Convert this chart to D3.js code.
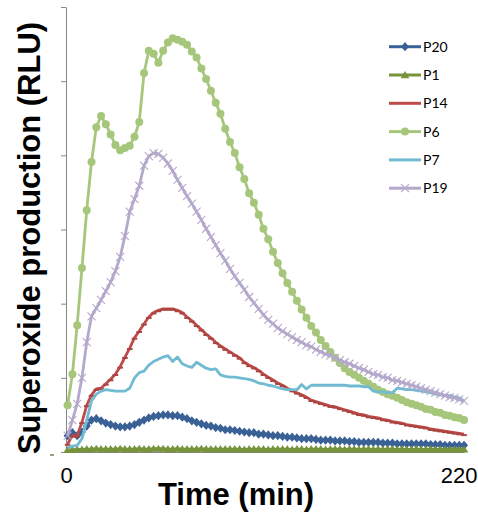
<!DOCTYPE html>
<html lang="en">
<head>
<meta charset="UTF-8">
<title>Superoxide production over time</title>
<script src="https://d3js.org/d3.v7.min.js"></script>
<style>
  body { margin: 0; background: #fff; }
  .axis-title { font: bold 31px "Liberation Sans", Arial, sans-serif; fill: #000; }
  .x-axis text { font: 22px "Liberation Sans", Arial, sans-serif; fill: #000; }
  .legend text { font: 14px Lato, "Liberation Sans", sans-serif; fill: #000; }
</style>
</head>
<body>
<script>
// Series names, in legend / drawing order
const names = ["P20", "P1", "P14", "P6", "P7", "P19"];

// sampling grid (minutes), one reading every ~2.64 min
const times = d3.range(84).map(i => +(0.9 + i * 2.64).toFixed(2));

// (RLU, arbitrary units 0-600)
const p20 = [22,26,22,27,35,43,45,42,39,37, 35,34,34,35,37,40,43,46,48,49,
  50,50,49,49,47,45,42,40,38,36, 35,33,32,30,30,29,28,27,26,26,
  24,24,23,22,22,21,20,20,19,18, 18,18,17,16,16,16,15,15,15,14,
  14,13,13,13,13,13,12,12,12,11, 11,11,11,11,11,11,10,10,10,9,
  9,9,9,9];
const p1 = [3,3,3.5,3.5,4,4,4.5,4,4,4, 4,4.5,4,4,4,4.5,4,4,4.5,4.5,
  4.5,4,4,4.5,4,4,4,4,4.5,4, 4,4,4,4,4,4,4,3.5,4,4,
  4,4,3.5,4,4,4,4,3.5,4,4, 3.5,4,4,4,3.5,4,4,4,3.5,4,
  4,3.5,4,4,3.5,4,3.5,4,4,3.5, 4,3.5,3.5,4,3.5,3.5,4,3.5,3.5,3.5,
  3.5,3.5,3.5,3.5];
const p14 = [11,22,22,40,63,77,85,86,92,98, 105,115,128,140,154,163,173,182,188,191,
  193,193,193,191,188,182,177,171,165,159, 154,148,143,139,135,131,127,121,117,114,
  110,105,101,97,93,90,86,83,80,77, 74,70,68,66,64,62,61,59,57,55,
  53,51,50,48,47,46,44,43,41,40, 39,37,36,35,34,33,31,30,29,28,
  27,26,25,24];
const p6 = [63,105,171,248,326,391,438,453,442,428, 414,407,410,413,425,445,511,541,537,525,
  541,552,558,556,553,549,540,532,517,503, 487,471,456,436,418,403,384,368,349,336,
  320,301,287,270,255,241,228,216,204,192, 181,170,161,151,143,135,127,120,113,108,
  104,100,96,92,88,84,81,78,76,73, 70,67,65,63,61,58,57,54,53,50,
  49,47,46,43];
const p7 = [5,8,9,18,43,69,78,82,84,83, 82,82,82,86,100,107,109,117,122,125,
  128,130,122,128,119,116,114,121,117,113, 111,112,104,102,101,101,100,99,98,96,
  93,92,90,89,87,85,84,84,84,91, 85,90,90,90,90,90,90,90,90,89,
  89,89,88,88,82,81,81,80,80,86, 85,84,84,83,82,81,80,78,77,76,
  76,74,73,69];
const p19 = [22,43,65,100,148,183,194,205,217,229, 244,263,291,324,341,359,386,399,403,402,
  397,389,379,367,356,345,335,324,313,301, 290,279,268,258,247,237,228,219,209,201,
  193,185,178,173,167,163,159,155,151,148, 144,142,138,135,132,130,127,124,121,119,
  116,113,111,108,105,104,101,100,97,96, 94,92,90,88,86,84,82,80,78,76,
  74,73,71,69];

const xTicks = [0, 220];
const yTicks = [0, 100, 200, 300, 400, 500, 600];

const colors = ["#3A6195", "#77933C", "#BE4B48", "#A6C77B", "#70BAD2", "#B4A8CB"];
const markers = ["diamond", "triangle", "dash", "circle", "none", "cross"];

const W = 478, H = 516;
const svg = d3.select("body").append("svg")
    .attr("width", W)
    .attr("height", H);

const x = d3.scaleLinear().domain([0, 220]).range([66, 464]);
const y = d3.scaleLinear().domain([0, 600]).range([452, 7]);

// axes
const xAxis = svg.append("g")
    .attr("class", "x-axis")
    .attr("transform", `translate(0,${y(0)})`)
    .call(d3.axisBottom(x).tickValues(xTicks).tickSize(0).tickPadding(15));
xAxis.select(".domain").attr("stroke", "#868686");
xAxis.selectAll(".tick text").filter(d => d === 220)
    .attr("text-anchor", "end").attr("x", 13);

const yAxis = svg.append("g")
    .attr("transform", `translate(${x(0)},0)`)
    .call(d3.axisLeft(y).tickValues(yTicks).tickSize(5).tickSizeOuter(0).tickFormat(""));
yAxis.selectAll("path, line").attr("stroke", "#868686");

svg.append("line")
    .attr("x1", 50).attr("x2", 54).attr("y1", 455).attr("y2", 455)
    .attr("stroke", "#8a7358").attr("stroke-width", 1.5);

// titles
svg.append("text")
    .attr("class", "axis-title")
    .attr("x", 236).attr("y", 505)
    .attr("text-anchor", "middle")
    .text("Time (min)");

svg.append("text")
    .attr("class", "axis-title")
    .attr("transform", "translate(40,238) rotate(-90)")
    .attr("text-anchor", "middle")
    .text("Superoxide production (RLU)");

const markerPath = {
    diamond: "M0,-4.6L4,0L0,4.6L-4,0Z",
    triangle: "M0,-4L4.3,3.2L-4.3,3.2Z",
    dash: "M-2.8,0.9H2.8",
    cross: "M-4,-4L4,4M-4,4L4,-4"
};

function drawMarker(g, kind, color) {
    if (kind === "none") return;
    if (kind === "circle") {
        g.append("circle").attr("r", 4).attr("fill", color);
    } else if (kind === "dash") {
        g.append("path").attr("d", markerPath.dash)
            .attr("stroke", d3.color(color).darker(0.3)).attr("stroke-width", 2);
    } else if (kind === "cross") {
        g.append("path").attr("d", markerPath.cross)
            .attr("stroke", color).attr("stroke-width", 1.1).attr("fill", "none");
    } else {
        g.append("path").attr("d", markerPath[kind]).attr("fill", color);
    }
}

const series = names.map((name, k) => ({
    name,
    color: colors[k],
    marker: markers[k],
    values: [p20, p1, p14, p6, p7, p19][k].map((v, i) => ({ t: times[i], v }))
}));

const line = d3.line().x(d => x(d.t)).y(d => y(d.v));

series.forEach(s => {
    const g = svg.append("g");
    g.append("path")
        .datum(s.values)
        .attr("d", line)
        .attr("fill", "none")
        .attr("stroke", s.color)
        .attr("stroke-width", 2.8)
        .attr("stroke-linejoin", "round");
    g.selectAll("g.m")
        .data(s.values)
        .join("g")
        .attr("class", "m")
        .attr("transform", d => `translate(${x(d.t)},${y(d.v)})`)
        .each(function() { drawMarker(d3.select(this), s.marker, s.color); });
});

// legend
const legend = svg.append("g").attr("class", "legend");
series.forEach((s, k) => {
    const row = legend.append("g").attr("transform", `translate(389,${46.7 + k * 28.3})`);
    row.append("line")
        .attr("x1", 0).attr("x2", 32)
        .attr("stroke", s.color).attr("stroke-width", 3);
    const m = row.append("g").attr("transform", "translate(16,0)");
    drawMarker(m, s.marker === "dash" ? "none" : s.marker, s.color);
    row.append("text")
        .attr("x", 34).attr("dy", "0.36em")
        .text(s.name);
});
</script>
</body>
</html>
